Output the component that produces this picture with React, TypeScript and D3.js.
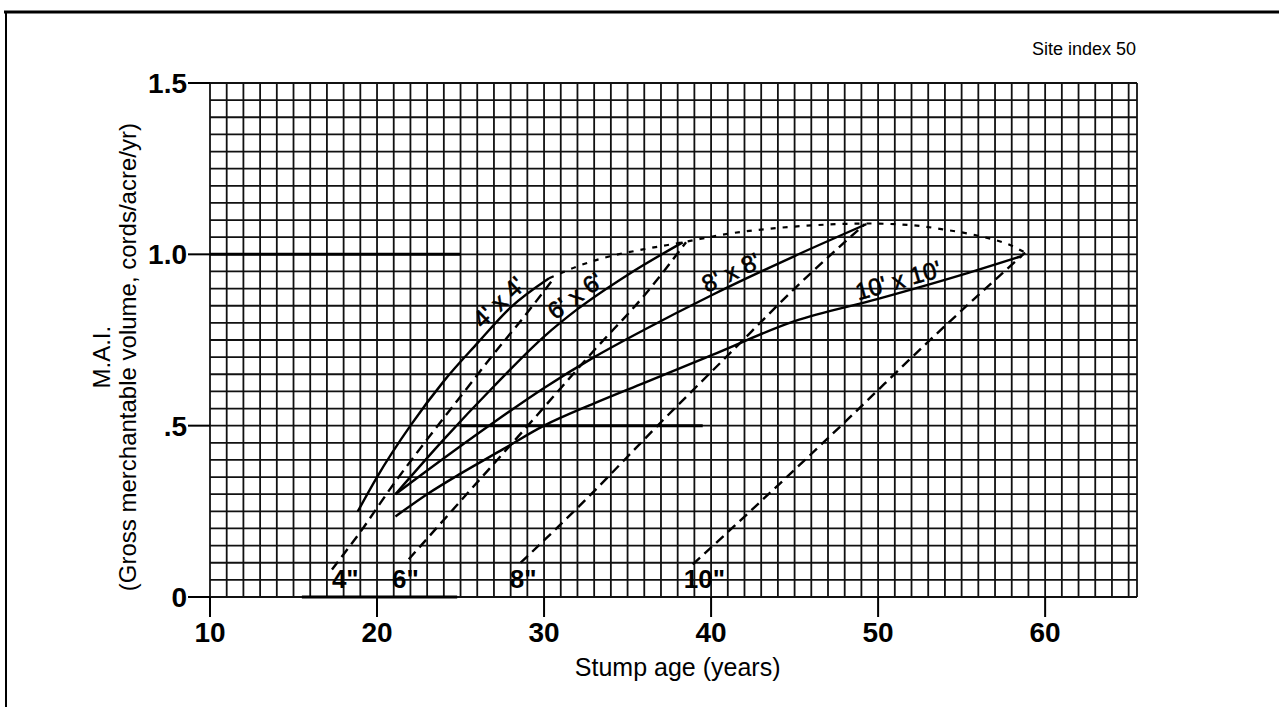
import React from 'react';
import * as d3 from 'd3';

// solid curves: stump age (years) vs M.A.I. for each spacing
const spacingLabels = ["4' x 4'", "6' x 6'", "8' x 8'", "10' x 10'"];
const spacing4 = [[18.85, 0.25], [20, 0.35], [22, 0.5], [24, 0.63], [26, 0.74], [28, 0.845], [30.3, 0.93]];
const spacing6 = [[21.1, 0.3], [24, 0.46], [27, 0.615], [30, 0.76], [32, 0.84], [35, 0.94], [38.3, 1.035]];
const spacing8 = [[21.1, 0.3], [24, 0.405], [27, 0.51], [30, 0.61], [33, 0.7], [36, 0.78], [40, 0.88], [45, 0.995], [49.3, 1.088]];
const spacing10 = [[21.1, 0.235], [23, 0.3], [25, 0.36], [27.5, 0.43], [30, 0.5], [33, 0.565], [36, 0.625], [40, 0.705], [45, 0.805], [50, 0.87], [55, 0.94], [58.6, 0.995]];

// dashed curves: diameter limits
const diameterLabels = ['4"', '6"', '8"', '10"'];
const dia4 = [[17.3, 0.08], [19, 0.19], [21, 0.33], [23, 0.46], [25, 0.585], [27, 0.71], [29, 0.83], [30.5, 0.925]];
const dia6 = [[21.9, 0.11], [25, 0.28], [29.3, 0.515], [33, 0.72], [36, 0.88], [38.5, 1.035]];
const dia8 = [[28.6, 0.1], [32, 0.26], [37.1, 0.515], [41, 0.705], [45.3, 0.914], [49.2, 1.088]];
const dia10 = [[38.9, 0.095], [43, 0.28], [48.3, 0.524], [53, 0.745], [58.8, 1.005]];

// short-dashed envelope through the culmination points
const envelope = [[30.3, 0.93], [32, 0.965], [34, 0.995], [36, 1.015], [38.3, 1.035], [41, 1.06], [44, 1.077], [47, 1.087], [49.3, 1.09], [52, 1.085], [54, 1.072], [56, 1.054], [58, 1.025], [58.8, 1.005]];

// where the labels sit (age)
const spacingLabelAge = [27.8, 32.3, 41.5, 51.4];
const diameterLabelAge = [18.1, 21.7, 28.75, 39.6];

const xTicks = [10, 20, 30, 40, 50, 60];
const yTicks = [0, 0.5, 1.0, 1.5];
const yTickText = ['0', '.5', '1.0', '1.5'];

// heavier printed segments on some grid lines
const heavyRows = [[1.0, 10, 25], [0.5, 25, 39.5], [0, 15.5, 24.8]];

const font = '"Liberation Sans", Arial, Helvetica, sans-serif';

function valueAt(pts: number[][], a: number) {
  for (let i = 1; i < pts.length; i++) {
    if (a <= pts[i][0]) {
      const t = (a - pts[i - 1][0]) / (pts[i][0] - pts[i - 1][0]);
      return pts[i - 1][1] + t * (pts[i][1] - pts[i - 1][1]);
    }
  }
  return pts[pts.length - 1][1];
}

export default function App() {
  const x = d3.scaleLinear().domain([10, 65.5]).range([210, 1137]);
  const y = d3.scaleLinear().domain([0, 1.5]).range([597, 83]);
  const line = d3.line<number[]>().x(d => x(d[0])).y(d => y(d[1])).curve(d3.curveMonotoneX);

  const spacings = [spacing4, spacing6, spacing8, spacing10];
  const diameters = [dia4, dia6, dia8, dia10];

  const vGrid = d3.range(10, 66, 1);
  const hGrid = d3.range(0, 31).map(i => i * 0.05);

  return (
    <svg width={1279} height={707} style={{ position: 'absolute', left: 0, top: 0, background: '#fff' }}>
      {/* page frame */}
      <line x1={4} x2={1279} y1={12} y2={12} stroke="#000" strokeWidth={3} />
      <line x1={6} x2={6} y1={11} y2={707} stroke="#000" strokeWidth={2} />

      {/* grid */}
      <g stroke="#111" strokeWidth={1.8}>
        {vGrid.map(v => <line key={'v' + v} x1={x(v)} x2={x(v)} y1={y(0)} y2={y(1.5)} />)}
        <line x1={x(65.5)} x2={x(65.5)} y1={y(0)} y2={y(1.5)} />
        {hGrid.map(h => <line key={'h' + h} x1={x(10)} x2={x(65.5)} y1={y(h)} y2={y(h)} />)}
      </g>
      <g stroke="#000" strokeWidth={3}>
        {heavyRows.map((r, i) => <line key={i} x1={x(r[1])} x2={x(r[2])} y1={y(r[0])} y2={y(r[0])} />)}
      </g>

      {/* ticks */}
      <g stroke="#000" strokeWidth={2}>
        {xTicks.map(t => <line key={t} x1={x(t)} x2={x(t)} y1={y(0)} y2={y(0) + 20} />)}
        {yTicks.map(t => <line key={t} x1={x(10) - 22} x2={x(10)} y1={y(t)} y2={y(t)} />)}
      </g>
      <g fontFamily={font} fontWeight="bold" fontSize={28} fill="#000">
        {xTicks.map(t => <text key={t} x={x(t)} y={y(0) + 45} textAnchor="middle">{t}</text>)}
        {yTicks.map((t, i) => <text key={t} x={x(10) - 23} y={y(t) + 10} textAnchor="end">{yTickText[i]}</text>)}
      </g>

      {/* curves */}
      <g fill="none" stroke="#000">
        {spacings.map((s, i) => <path key={'s' + i} d={line(s) || ''} strokeWidth={2.4} />)}
        {diameters.map((s, i) => <path key={'d' + i} d={line(s) || ''} strokeWidth={2.4} strokeDasharray="10,6" />)}
        <path d={line(envelope) || ''} strokeWidth={2.2} strokeDasharray="5,7" />
      </g>

      {/* curve labels */}
      <g fontFamily={font} fontSize={24} fill="#000" stroke="#000" strokeWidth={0.6}>
        {spacings.map((s, i) => {
          const a = spacingLabelAge[i];
          const px = x(a), py = y(valueAt(s, a));
          const dx = x(a + 0.8) - x(a - 0.8);
          const dy = y(valueAt(s, a + 0.8)) - y(valueAt(s, a - 0.8));
          const ang = (Math.atan2(dy, dx) * 180) / Math.PI;
          return (
            <text key={i} transform={`translate(${px},${py}) rotate(${ang})`} y={-4} textAnchor="middle">
              {spacingLabels[i]}
            </text>
          );
        })}
      </g>
      <g fontFamily={font} fontWeight="bold" fontSize={26} fill="#000">
        {diameterLabels.map((t, i) => (
          <text key={i} x={x(diameterLabelAge[i])} y={y(0) - 9} textAnchor="middle">{t}</text>
        ))}
      </g>

      {/* titles */}
      <text x={1136} y={55} textAnchor="end" fontFamily={font} fontSize={18}>Site index 50</text>
      <text x={x(38)} y={676} textAnchor="middle" fontFamily={font} fontSize={25}>Stump age (years)</text>
      <g transform={`translate(110, ${y(0.7)}) rotate(-90)`} fontFamily={font} fontSize={24} textAnchor="middle">
        <text x={0} y={0}>M.A.I.</text>
        <text x={0} y={26}>(Gross merchantable volume, cords/acre/yr)</text>
      </g>
    </svg>
  );
}
